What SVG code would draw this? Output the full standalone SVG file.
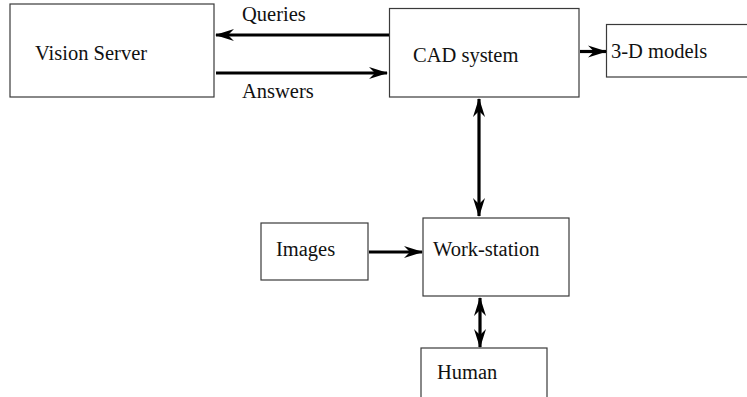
<svg xmlns="http://www.w3.org/2000/svg" width="747" height="397" viewBox="0 0 747 397">
<style>
.box{fill:#fff;stroke:#3a3a3a;stroke-width:1.2}
.lbl{font-family:"Liberation Serif","Times New Roman",serif;font-size:20.5px;fill:#111}
.conn{stroke:#000;stroke-width:3.2;fill:none}
</style>
<defs>
<marker id="ah" markerUnits="userSpaceOnUse" markerWidth="22" markerHeight="14" viewBox="-20 -7 22 14" refX="0" refY="0" orient="auto-start-reverse">
<path d="M1,0 L-18,-6 L-12,0 L-18,6 Z" fill="#000"/>
</marker>
</defs>
<rect width="747" height="397" fill="#fff"/>
<g id="vision-server"><rect class="box" x="10" y="4" width="204" height="93"/><text class="lbl" x="35" y="60">Vision Server</text></g>
<g id="cad-system"><rect class="box" x="389.5" y="8.5" width="189.5" height="88.5"/><text class="lbl" x="413" y="62">CAD system</text></g>
<g id="models"><rect class="box" x="606.5" y="24.5" width="160" height="52.5"/><text class="lbl" x="611" y="58">3-D models</text></g>
<g id="images"><rect class="box" x="261" y="223" width="107" height="57"/><text class="lbl" x="276" y="256">Images</text></g>
<g id="workstation"><rect class="box" x="423" y="218" width="146" height="78"/><text class="lbl" x="433" y="256">Work-station</text></g>
<g id="human"><rect class="box" x="421" y="348" width="126" height="60"/><text class="lbl" x="437" y="379">Human</text></g>
<g id="connectors">
<line class="conn" x1="389" y1="35" x2="216" y2="35" marker-end="url(#ah)"/>
<line class="conn" x1="216" y1="73" x2="387" y2="73" marker-end="url(#ah)"/>
<line class="conn" x1="580" y1="51.5" x2="606" y2="51.5" marker-end="url(#ah)"/>
<line class="conn" x1="479" y1="99" x2="479" y2="216" marker-start="url(#ah)" marker-end="url(#ah)"/>
<line class="conn" x1="369" y1="252" x2="422" y2="252" marker-end="url(#ah)"/>
<line class="conn" x1="480" y1="298" x2="480" y2="347" marker-start="url(#ah)" marker-end="url(#ah)"/>
<text class="lbl" x="242" y="21">Queries</text>
<text class="lbl" x="242" y="98">Answers</text>
</g>
</svg>
